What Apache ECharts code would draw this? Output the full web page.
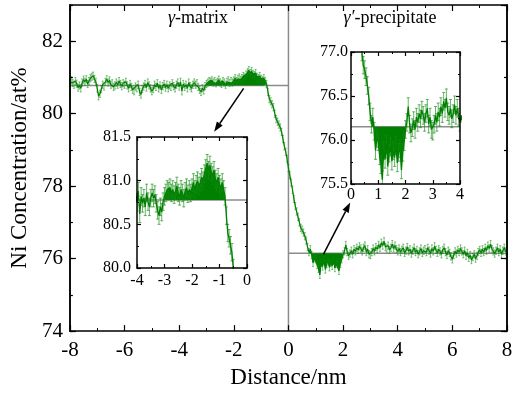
<!DOCTYPE html>
<html><head><meta charset="utf-8">
<script src="https://cdn.jsdelivr.net/npm/echarts@6/dist/echarts.min.js"></script>
<style>html,body{margin:0;padding:0;background:#fff}#c{width:517px;height:394px}</style>
</head><body><div id="c"></div>
<script>
// ---- data ----
const xStart = -8, xStep = 0.05;           // sampling of the concentration profile (nm)
const niConc = [
  // -8.00 .. -7.05
  80.88,80.92,80.85,80.80,80.90,80.83,80.72,80.78,80.70,80.86,80.94,80.88,80.95,80.82,80.90,80.98,81.02,81.05,80.96,80.88,
  // -7.00 .. -6.05
  80.70,80.48,80.55,80.68,80.80,80.75,80.88,80.95,80.86,80.92,80.80,80.84,80.74,80.78,80.86,80.80,80.90,80.82,80.76,80.84,
  // -6.00 .. -5.05
  80.80,80.88,80.78,80.70,80.82,80.74,80.66,80.62,80.75,80.70,80.80,80.60,80.53,80.68,80.75,80.82,80.72,80.86,80.78,80.70,
  // -5.00 .. -4.05
  80.62,80.68,80.80,80.74,80.84,80.70,80.78,80.66,80.76,80.82,80.72,80.80,80.70,80.78,80.74,80.84,80.76,80.70,80.80,80.86,
  // -4.00 .. -3.05
  80.75,80.88,80.62,80.82,80.74,80.80,80.70,80.86,80.76,80.70,80.80,80.86,80.80,80.84,80.74,80.66,80.60,80.70,80.64,80.76,
  // -3.00 .. -2.05
  80.82,80.86,80.90,80.88,80.92,80.86,80.90,80.84,80.88,80.94,80.86,80.82,80.90,80.86,80.80,80.88,80.92,80.85,80.90,80.86,
  // -2.00 .. -1.05
  80.92,80.98,80.90,80.96,81.00,80.94,80.98,81.04,81.00,81.08,81.14,81.20,81.12,81.18,81.10,81.06,81.12,81.02,80.98,81.04,
  // -1.00 .. -0.05
  80.96,80.92,80.98,80.90,80.82,80.60,80.40,80.34,80.26,80.18,80.00,79.85,79.78,79.70,79.62,79.50,79.30,79.10,78.95,78.75,
  // 0.00 .. 0.95
  78.50,78.30,78.10,77.90,77.65,77.45,77.30,77.15,77.00,76.85,76.80,76.72,76.62,76.50,76.32,76.18,76.26,76.10,75.88,76.02,
  // 1.00 .. 1.95
  75.98,75.82,75.72,75.55,75.88,75.78,75.95,75.70,75.85,75.92,75.76,75.88,75.80,75.94,75.74,75.86,75.90,75.66,75.86,75.98,
  // 2.00 .. 2.95
  76.12,76.20,76.38,76.18,76.08,76.14,76.22,76.12,76.26,76.20,76.30,76.24,76.34,76.28,76.20,76.30,76.36,76.18,76.26,76.12,
  // 3.00 .. 3.95
  76.10,76.18,76.28,76.20,76.32,76.26,76.38,76.30,76.44,76.36,76.48,76.32,76.28,76.36,76.24,76.30,76.40,76.28,76.36,76.26,
  // 4.00 .. 4.95
  76.20,76.28,76.18,76.24,76.30,76.16,76.22,76.32,76.20,76.26,76.14,76.22,76.30,76.18,76.24,76.12,76.20,76.28,76.16,76.22,
  // 5.00 .. 5.95
  76.26,76.18,76.30,76.22,76.14,76.28,76.20,76.34,76.24,76.16,76.26,76.20,76.12,76.24,76.30,76.18,76.10,76.22,76.16,76.06,
  // 6.00 .. 6.95
  75.98,76.10,76.20,76.14,76.24,76.18,76.28,76.20,76.12,76.22,76.08,76.16,76.02,76.10,75.96,76.04,76.12,76.00,76.08,76.18,
  // 7.00 .. 7.95
  76.24,76.16,76.26,76.18,76.30,76.22,76.36,76.28,76.40,76.26,76.20,76.14,76.22,76.30,76.18,76.26,76.12,76.22,76.30,76.20,
  // 8.00
  76.22
];
const errHalf = 0.1;                 // half length of the error bars (at%)
const matrixMean = 80.78;            // gamma matrix average
const precipMean = 76.15;            // gamma' precipitate average
const matrixFillRange = [-3.0, -0.8];
const precipFillRange = [0.75, 2.0];
const mainX = [-8, 8, 2], mainY = [74, 83, 2];
const inset1X = [-4, 0, 1], inset1Y = [80.0, 81.5, 0.5];
const inset2X = [0, 4, 1], inset2Y = [75.5, 77.0, 0.5];
const arrowMatrix = {from: [-1.64, 80.70], to: [-2.72, 79.50]};
const arrowPrecip = {from: [1.28, 76.12], to: [2.26, 77.55]};
const labelMatrix = '{i|γ}-matrix';
const labelPrecip = '{i|γ′}-precipitate';
const xName = 'Distance/nm', yName = 'Ni Concentration/at%';

// ---- build ----
const FONT = 'Liberation Serif';
const GREEN = '#008000', ERR = 'rgba(20,140,20,0.65)', GRAY = '#8c8c8c';
const pts = niConc.map((v, i) => [+(xStart + i * xStep).toFixed(2), v]);
const inRange = (r) => pts.filter(p => p[0] >= r[0] - 1e-9 && p[0] <= r[1] + 1e-9);

function ax(o) {
  const base = {
    type: 'value', min: o.r[0], max: o.r[1], interval: o.r[2],
    gridIndex: o.g, position: o.pos, z: 20,
    axisLine: {show: true, onZero: false, lineStyle: {color: '#000', width: 1.5}},
    axisTick: {show: o.tick !== false, inside: true, length: o.tl || 5, lineStyle: {color: '#000', width: 1.2}},
    minorTick: {show: !!o.minor, splitNumber: 2, length: o.ml || 3, lineStyle: {color: '#000', width: 1}},
    splitLine: {show: false},
    axisLabel: o.label ? {show: true, fontFamily: FONT, fontSize: o.fs, color: '#000', margin: o.margin,
      showMaxLabel: o.showMax !== false, formatter: o.fmt} : {show: false}
  };
  if (o.name) Object.assign(base, o.name);
  return base;
}
const fmt1 = v => v.toFixed(1);
const fmtInt = v => (v < 0 ? '-' : '') + Math.abs(Math.round(v));

const xAxes = [
  ax({g: 0, r: mainX, pos: 'bottom', label: true, fs: 21, margin: 9, minor: true, tl: 6, ml: 3, fmt: fmtInt,
      name: {name: xName, nameLocation: 'middle', nameGap: 33, nameTextStyle: {fontFamily: FONT, fontSize: 23, color: '#000'}}}),
  ax({g: 0, r: mainX, pos: 'top', minor: true, tl: 6, ml: 3}),
  ax({g: 1, r: inset1X, pos: 'bottom', label: true, fs: 16, margin: 5, minor: true, tl: 4, ml: 2, fmt: fmtInt}),
  ax({g: 1, r: inset1X, pos: 'top', minor: true, tl: 4, ml: 2}),
  ax({g: 2, r: inset2X, pos: 'bottom', label: true, fs: 16, margin: 3, minor: true, tl: 4, ml: 2, fmt: fmtInt}),
  ax({g: 2, r: inset2X, pos: 'top', minor: true, tl: 4, ml: 2})
];
const yAxes = [
  ax({g: 0, r: mainY, pos: 'left', label: true, fs: 21, margin: 7, tl: 6, showMax: false, fmt: fmtInt,
      name: {name: yName, nameLocation: 'middle', nameGap: 37, nameTextStyle: {fontFamily: FONT, fontSize: 23, color: '#000'}}}),
  ax({g: 0, r: mainY, pos: 'right', tl: 6}),
  ax({g: 0, r: [mainY[0], mainY[1], 1], pos: 'left', tl: 3}),
  ax({g: 0, r: [mainY[0], mainY[1], 1], pos: 'right', tl: 3}),
  ax({g: 1, r: inset1Y, pos: 'left', label: true, fs: 16, margin: 6, minor: true, tl: 4, ml: 2, fmt: fmt1}),
  ax({g: 1, r: inset1Y, pos: 'right', minor: true, tl: 4, ml: 2}),
  ax({g: 2, r: inset2Y, pos: 'left', label: true, fs: 16, margin: 3, minor: true, tl: 4, ml: 2, fmt: fmt1}),
  ax({g: 2, r: inset2Y, pos: 'right', minor: true, tl: 4, ml: 2})
];

function refLine(xi, yi, data, z) {
  return {type: 'line', xAxisIndex: xi, yAxisIndex: yi, data, symbol: 'none', silent: true, z: z,
    lineStyle: {color: GRAY, width: 1.5}, animation: false};
}
function curve(xi, yi, w, z) {
  return {type: 'line', xAxisIndex: xi, yAxisIndex: yi, data: pts, symbol: 'none', silent: true, z: z,
    clip: true, lineStyle: {color: GREEN, width: w}, animation: false};
}
function fill(xi, yi, range, origin, z) {
  return {type: 'line', xAxisIndex: xi, yAxisIndex: yi, data: inRange(range), symbol: 'none', silent: true, z: z,
    clip: true, lineStyle: {width: 0}, areaStyle: {origin: origin, color: GREEN, opacity: 1}, animation: false};
}
function errBars(xi, yi, cap, w, z) {
  return {type: 'custom', xAxisIndex: xi, yAxisIndex: yi, clip: true, silent: true, z: z, animation: false,
    data: pts.map(p => [p[0], p[1] - errHalf, p[1] + errHalf]),
    encode: {x: 0, y: [1, 2]},
    renderItem(params, api) {
      const x = api.value(0);
      const lo = api.coord([x, api.value(1)]), hi = api.coord([x, api.value(2)]);
      const h = cap / 2, st = {stroke: ERR, lineWidth: w};
      return {type: 'group', children: [
        {type: 'line', shape: {x1: lo[0], y1: lo[1], x2: hi[0], y2: hi[1]}, style: st},
        {type: 'line', shape: {x1: lo[0] - h, y1: lo[1], x2: lo[0] + h, y2: lo[1]}, style: st},
        {type: 'line', shape: {x1: hi[0] - h, y1: hi[1], x2: hi[0] + h, y2: hi[1]}, style: st}
      ]};
    }
  };
}

const series = [
  // main
  refLine(0, 0, [[0, mainY[0]], [0, mainY[1]]], 1),
  refLine(0, 0, [[mainX[0], matrixMean], [0, matrixMean]], 1),
  refLine(0, 0, [[0, precipMean], [mainX[1], precipMean]], 1),
  fill(0, 0, matrixFillRange, matrixMean, 2),
  fill(0, 0, precipFillRange, precipMean, 2),
  errBars(0, 0, 2, 0.8, 3),
  curve(0, 0, 1.2, 4),
  // inset 1
  refLine(2, 4, [[inset1X[0], matrixMean], [inset1X[1], matrixMean]], 11),
  fill(2, 4, matrixFillRange, matrixMean, 12),
  errBars(2, 4, 3, 1, 13),
  curve(2, 4, 1.3, 14),
  // inset 2
  refLine(4, 6, [[inset2X[0], precipMean], [inset2X[1], precipMean]], 11),
  fill(4, 6, precipFillRange, precipMean, 12),
  errBars(4, 6, 3, 1, 13),
  curve(4, 6, 1.3, 14)
];

const chart = echarts.init(document.getElementById('c'), null, {renderer: 'canvas'});
chart.setOption({
  animation: false,
  backgroundColor: '#fff',
  grid: [
    {left: 69, right: 10, top: 5, bottom: 61, containLabel: false},
    {left: 137, top: 137, width: 110, height: 131, show: true, backgroundColor: '#fff', borderWidth: 0, z: 6},
    {left: 351, top: 52, width: 109, height: 132, show: true, backgroundColor: '#fff', borderWidth: 0, z: 6}
  ],
  xAxis: xAxes,
  yAxis: yAxes,
  series
});

function arrowEls(a) {
  const p0 = chart.convertToPixel({gridIndex: 0}, a.from);
  const p1 = chart.convertToPixel({gridIndex: 0}, a.to);
  const dx = p1[0] - p0[0], dy = p1[1] - p0[1], L = Math.hypot(dx, dy);
  const ux = dx / L, uy = dy / L, hl = 10, hw = 3.5;
  const bx = p1[0] - ux * hl, by = p1[1] - uy * hl;
  return [
    {type: 'line', shape: {x1: p0[0], y1: p0[1], x2: bx, y2: by}, style: {stroke: '#000', lineWidth: 1.5}, z: 100},
    {type: 'polygon', shape: {points: [[p1[0], p1[1]], [bx - uy * hw, by + ux * hw], [bx + uy * hw, by - ux * hw]]},
      style: {fill: '#000'}, z: 100}
  ];
}
const rich = {i: {fontFamily: FONT, fontStyle: 'italic', fontSize: 18, fill: '#000'}};
chart.setOption({
  graphic: [
    ...arrowEls(arrowMatrix),
    ...arrowEls(arrowPrecip),
    {type: 'text', x: 198, y: 18, z: 100,
      style: {text: labelMatrix, rich, font: '18px "' + FONT + '"', fill: '#000', align: 'center', verticalAlign: 'middle'}},
    {type: 'text', x: 390, y: 18, z: 100,
      style: {text: labelPrecip, rich, font: '18px "' + FONT + '"', fill: '#000', align: 'center', verticalAlign: 'middle'}}
  ]
});
</script>
</body></html>
